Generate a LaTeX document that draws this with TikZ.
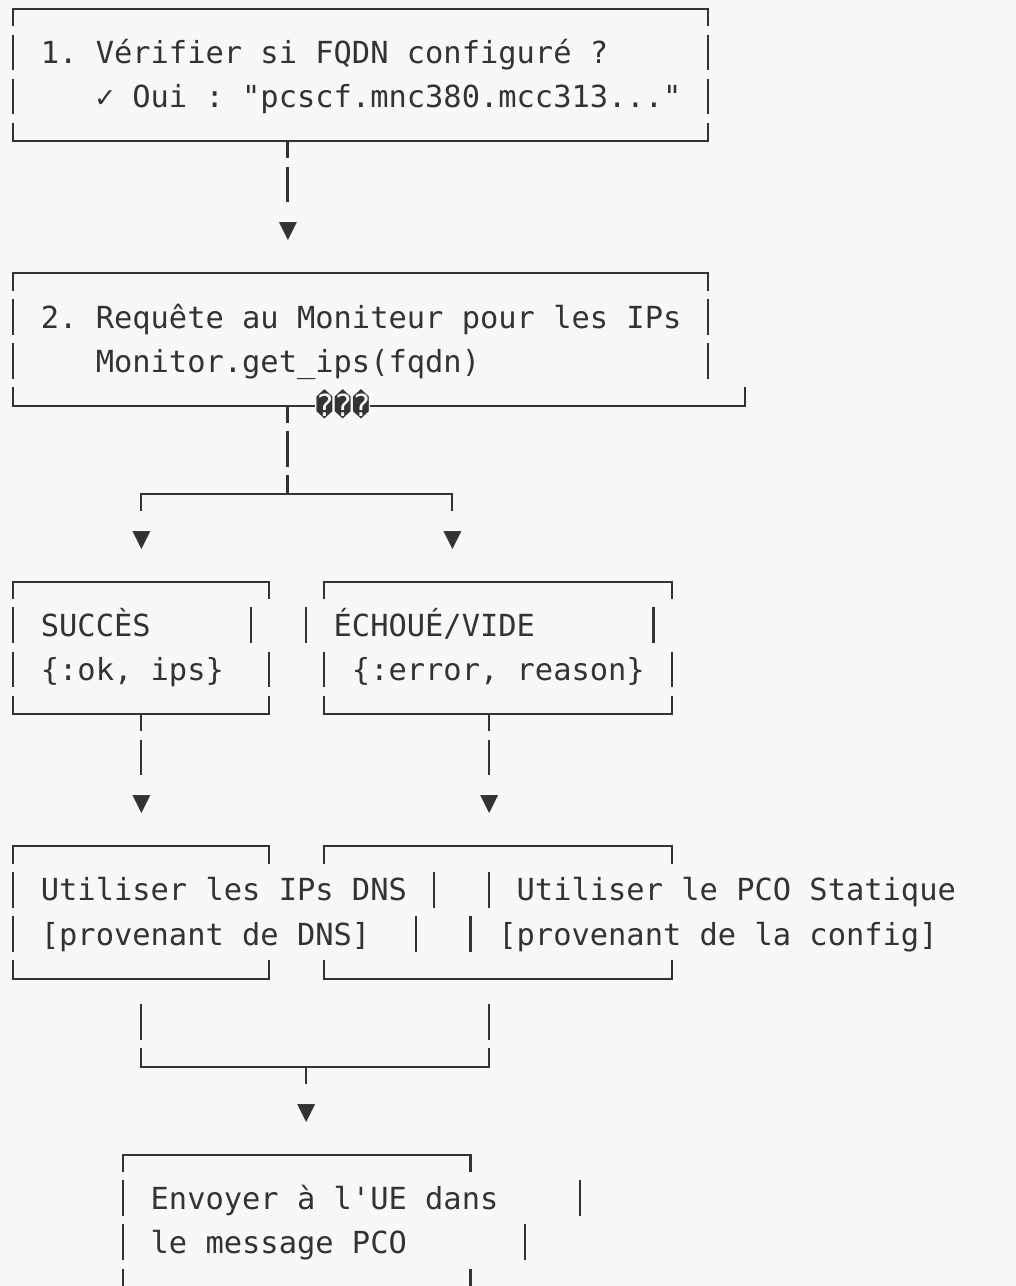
\documentclass[tikz,border=0pt]{standalone}
\usepackage{fontspec}
\setmonofont{DejaVu Sans Mono}
\usepackage{tikz}
\definecolor{ink}{HTML}{333333}
\definecolor{paper}{HTML}{F6F8FA}

\begin{document}
\begin{tikzpicture}[x=9.15pt, y=-22.035pt,
    txt/.style={anchor=base west, inner sep=0pt, text=ink, font=\ttfamily\fontsize{15.2pt}{18pt}\selectfont},
    ln/.style={draw=ink, line width=1.05pt}]
				\path[use as bounding box, fill=paper] (-6.5pt,4.5pt) rectangle (501.5pt,-638.5pt);
				
				% step 1
				\draw[ln] (0,0.39) -- (0,0) -- (38,0) -- (38,0.39);
				\draw[ln] (0,2.58) -- (0,3) -- (38,3) -- (38,2.58);
				\draw[ln] (15,3) -- (15,3.39);
				\node[txt] (fqdn) at (1.5,1.24) {1. Vérifier si FQDN configuré ?};
				\node[txt] (fqdnok) at (4.5,2.24) {✓ Oui : "pcscf.mnc380.mcc313..."};
				\node[txt] (arr1) at (14.5,5.24) {▼};
				
				% step 2
				\draw[ln] (0,6.39) -- (0,6) -- (38,6) -- (38,6.39);
				\draw[ln] (0,8.58) -- (0,9) -- (16.5,9);
				\draw[ln] (19.5,9) -- (40,9) -- (40,8.58);
				\draw[ln] (15,9) -- (15,9.39);
				\node[txt] (query) at (1.5,7.24) {2. Requête au Moniteur pour les IPs};
				\node[txt] (getips) at (4.5,8.24) {Monitor.get\_ips(fqdn)};
				\node[txt] (bad) at (16.5,9.24) {���};
				
				% fork
				\draw[ln] (15,10.58) -- (15,11);
				\draw[ln] (7,11.39) -- (7,11) -- (24,11) -- (24,11.39);
				\node[txt] (arr2) at (6.5,12.24) {▼};
				\node[txt] (arr3) at (23.5,12.24) {▼};
				
				% results
				\foreach \a/\b in {0/14, 17/36} {
					\draw[ln] (\a,13.39) -- (\a,13) -- (\b,13) -- (\b,13.39);
					\draw[ln] (\a,15.58) -- (\a,16) -- (\b,16) -- (\b,15.58);
					\draw[ln] (\a,19.39) -- (\a,19) -- (\b,19) -- (\b,19.39);
					\draw[ln] (\a,21.58) -- (\a,22) -- (\b,22) -- (\b,21.58);
				}
				\draw[ln] (7,16) -- (7,16.39);
				\draw[ln] (26,16) -- (26,16.39);
				\node[txt] (ok) at (1.5,14.24) {SUCCÈS};
				\node[txt] (okval) at (1.5,15.24) {\{:ok, ips\}};
				\node[txt] (fail) at (17.5,14.24) {ÉCHOUÉ/VIDE};
				\node[txt] (failval) at (18.5,15.24) {\{:error, reason\}};
				\node[txt] (arr4) at (6.5,18.24) {▼};
				\node[txt] (arr5) at (25.5,18.24) {▼};
				
				% actions
				\node[txt] (usedns) at (1.5,20.24) {Utiliser les IPs DNS};
				\node[txt] (usednsfrom) at (1.5,21.24) {{[}provenant de DNS]};
				\node[txt] (usepco) at (27.5,20.24) {Utiliser le PCO Statique};
				\node[txt] (usepcofrom) at (26.5,21.24) {{[}provenant de la config]};
				
				% join
				\draw[ln] (7,23.58) -- (7,24) -- (26,24) -- (26,23.58);
				\draw[ln] (16,24) -- (16,24.39);
				\node[txt] (arr6) at (15.5,25.24) {▼};
				
				% send
				\draw[ln] (6,26.39) -- (6,26) -- (25,26) -- (25,26.39);
				\draw[ln] (6,28.58) -- (6,29);
				\draw[ln] (25,28.58) -- (25,29);
				\node[txt] (send) at (7.5,27.24) {Envoyer à l'UE dans};
				\node[txt] (sendmsg) at (7.5,28.24) {le message PCO};
				
				% vertical strokes, one per text row
				\foreach \c/\r in {0/1, 38/1, 0/2, 38/2, 15/4, 0/7, 38/7, 0/8, 38/8, 15/10,
						0/14, 13/14, 16/14, 35/14, 0/15, 14/15, 17/15, 36/15, 7/17, 26/17,
						0/20, 23/20, 26/20, 0/21, 22/21, 25/21, 7/23, 26/23,
						6/27, 31/27, 6/28, 28/28}
					\draw[ln] (\c,\r-0.42) -- (\c,\r+0.39);
			\end{tikzpicture}
\end{document}
